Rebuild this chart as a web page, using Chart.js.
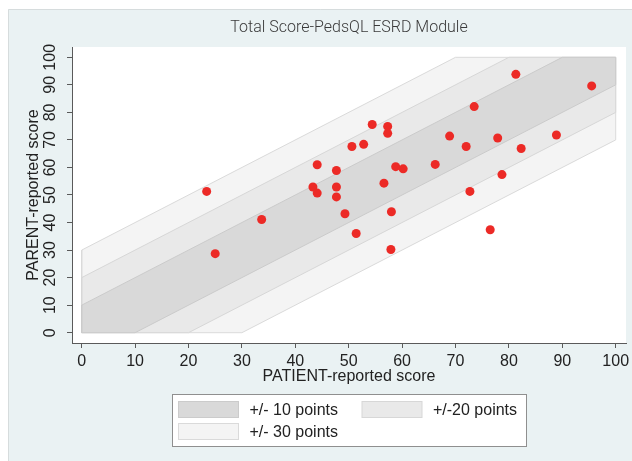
<!DOCTYPE html>
<html><head><meta charset="utf-8">
<script src="https://cdn.jsdelivr.net/npm/chart.js@4"></script>
<style>html,body{margin:0;padding:0;background:#fff}</style>
</head><body>
<canvas id="c" width="632" height="461"></canvas>
<script>
const patientScores = [23.4,25.0,33.7,43.3,44.1,44.1,47.7,47.7,47.7,49.3,50.6,51.4,52.8,54.4,56.6,57.3,57.3,58.0,57.9,58.8,60.2,66.2,68.9,72.0,72.7,73.5,76.5,77.9,78.7,81.3,82.3,88.9,95.5];
const parentScores  = [51.3,28.7,41.1,52.9,61.0,50.7,58.9,52.9,49.3,43.2,67.6,36.0,68.4,75.6,54.3,74.9,72.4,43.9,30.2,60.3,59.5,61.1,71.4,67.6,51.3,82.1,37.4,70.7,57.4,93.8,66.9,71.8,89.6];
const bandHalfWidths = [10, 20, 30];
const bandLabels = ['+/- 10 points', '+/-20 points', '+/- 30 points'];
const xTickValues = [0,10,20,30,40,50,60,70,80,90,100];
const yTickValues = [0,10,20,30,40,50,60,70,80,90,100];
const titleText = 'Total Score-PedsQL ESRD Module';
const xTitleText = 'PATIENT-reported score';
const yTitleText = 'PARENT-reported score';
const scoreMin = 0, scoreMax = 100;

const bandColors = ['#d9d9d9', '#e9e9e9', '#f4f4f4'];
const bandEdgeColors = ['#cbcbcb', '#d7d7d7', '#dadada'];
const pointColor = '#ec2a26';
const axisColor = '#5a5a5a';
const textColor = '#222';
const sansFont = '"Liberation Sans", Arial, sans-serif';

function bandPolygon(w) {
  return [
    {x: scoreMin, y: scoreMin}, {x: scoreMin + w, y: scoreMin},
    {x: scoreMax, y: scoreMax - w}, {x: scoreMax, y: scoreMax},
    {x: scoreMax - w, y: scoreMax}, {x: scoreMin, y: scoreMin + w},
    {x: scoreMin, y: scoreMin}
  ];
}

const backgroundPlugin = {
  id: 'bg',
  beforeDraw(chart) {
    const ctx = chart.ctx, a = chart.chartArea;
    ctx.save();
    ctx.fillStyle = '#ffffff';
    ctx.fillRect(0, 0, chart.width, chart.height);
    ctx.fillStyle = '#eaf2f3';
    ctx.fillRect(8, 9, chart.width - 8, chart.height - 9);
    ctx.strokeStyle = '#d6dcdd';
    ctx.lineWidth = 1;
    ctx.beginPath();
    ctx.moveTo(8.5, chart.height); ctx.lineTo(8.5, 9.5); ctx.lineTo(chart.width, 9.5);
    ctx.stroke();
    ctx.fillStyle = '#ffffff';
    ctx.fillRect(a.left, a.top, a.right - a.left, a.bottom - a.top);
    ctx.restore();
  }
};

const boxLegendPlugin = {
  id: 'boxLegend',
  afterDraw(chart) {
    const ctx = chart.ctx;
    ctx.save();
    ctx.fillStyle = '#ffffff';
    ctx.fillRect(172, 394.5, 354, 52);
    ctx.strokeStyle = '#8f8f8f';
    ctx.lineWidth = 1;
    ctx.strokeRect(172.5, 394.5, 354, 52);
    const slots = [[178.5, 401.5], [362, 401.5], [178.5, 423.5]];
    ctx.font = '16px ' + sansFont;
    ctx.textBaseline = 'middle';
    ctx.textAlign = 'left';
    bandLabels.forEach((lab, i) => {
      const [sx, sy] = slots[i];
      ctx.fillStyle = bandColors[i];
      ctx.fillRect(sx, sy, 60, 16);
      ctx.strokeStyle = bandEdgeColors[i];
      ctx.strokeRect(sx, sy, 60, 16);
      ctx.fillStyle = textColor;
      ctx.fillText(lab, sx + 71, sy + 9.5);
    });
    ctx.restore();
  }
};

const datasets = [
  {
    type: 'scatter', label: 'scores',
    data: patientScores.map((x, i) => ({x: x, y: parentScores[i]})),
    backgroundColor: pointColor, borderWidth: 0, pointRadius: 4.5, order: 0
  }
].concat(bandHalfWidths.map((w, i) => ({
  type: 'line', label: bandLabels[i], data: bandPolygon(w),
  fill: 'shape', backgroundColor: bandColors[i], borderColor: bandEdgeColors[i],
  borderWidth: 1, pointRadius: 0, tension: 0, order: i + 1
})));

new Chart(document.getElementById('c'), {
  type: 'scatter',
  data: {datasets: datasets},
  plugins: [backgroundPlugin, boxLegendPlugin],
  options: {
    responsive: false, animation: false, devicePixelRatio: 1,
    layout: {padding: {top: 9, left: 0, right: 6, bottom: 0}},
    plugins: {
      legend: {display: false},
      tooltip: {enabled: false},
      title: {
        display: true, text: titleText, color: '#3a3a3a', fullSize: false,
        font: {family: 'Roboto, "Noto Sans", sans-serif', size: 16, weight: '300', lineHeight: 1.2},
        padding: {top: 9.7, bottom: 9.1}
      }
    },
    scales: {
      x: {
        type: 'linear', min: -1.82, max: 101.93,
        afterBuildTicks: s => { s.ticks = xTickValues.map(v => ({value: v})); },
        afterFit: s => { s.height = 118; s.paddingLeft = 0; s.paddingRight = 0; },
        ticks: {color: textColor, font: {family: sansFont, size: 16}, padding: 4.4, autoSkip: false, minRotation: 0, maxRotation: 0},
        grid: {drawOnChartArea: false, drawTicks: true, tickLength: 5, color: axisColor, lineWidth: 1},
        border: {display: true, color: axisColor, width: 1},
        title: {display: true, text: xTitleText, color: textColor, font: {family: sansFont, size: 16, lineHeight: 1.2}, padding: {top: 0, bottom: 74.7}}
      },
      y: {
        type: 'linear', min: -3.74, max: 103.74,
        afterBuildTicks: s => { s.ticks = yTickValues.map(v => ({value: v})); },
        afterFit: s => { s.width = 72; s.paddingTop = 0; s.paddingBottom = 0; },
        ticks: {color: textColor, font: {family: sansFont, size: 16}, padding: 3.5, autoSkip: false, minRotation: 90, maxRotation: 90, crossAlign: 'center'},
        grid: {drawOnChartArea: false, drawTicks: true, tickLength: 5, color: axisColor, lineWidth: 1},
        border: {display: true, color: axisColor, width: 1},
        title: {display: true, text: yTitleText, color: textColor, font: {family: sansFont, size: 16, lineHeight: 1.2}, padding: {top: 24.4, bottom: 0}}
      }
    }
  }
});
</script>
</body></html>
